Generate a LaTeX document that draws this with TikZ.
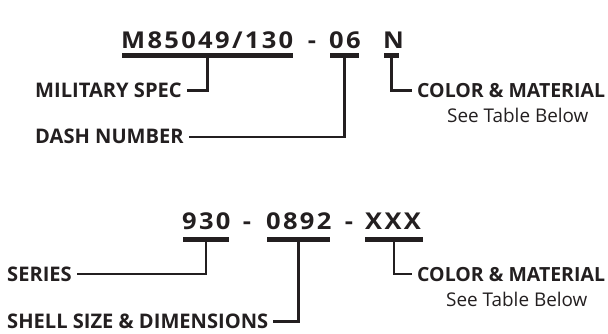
\documentclass[tikz,border=0pt]{standalone}
\usepackage{fontspec}
\setmainfont{Open Sans}
\newfontfamily\codefamily[LetterSpace=10,FakeStretch=1.1]{Open Sans}
\definecolor{ink}{HTML}{231F20}
\newcommand\labfont{\fontsize{20.1}{22}\selectfont\bfseries}
\newcommand\cmfont{\fontsize{19.5}{22}\selectfont\bfseries}
\newcommand\notefont{\fontsize{18.9}{20}\selectfont}
\newcommand\cdfont{\codefamily\fontsize{23.2}{26}\selectfont\bfseries}
\begin{document}
\begin{tikzpicture}[x=1pt,y=-1pt,
  lbl/.style={font=\labfont, text=ink, inner xsep=5pt, inner ysep=0pt, text height=14pt, text depth=0pt, anchor=west},
  cmlbl/.style={lbl, font=\cmfont},
  code/.style={font=\cdfont, text=ink, inner sep=0pt, anchor=base west},
  dashmark/.style={font=\cdfont, text=ink, inner sep=0pt, anchor=base},
  bar/.style={fill=ink, inner sep=0pt, minimum height=5pt},
  note/.style={font=\notefont, text=ink, inner sep=0pt, anchor=base west},
  conn/.style={draw=ink, line width=2.2pt}]
\useasboundingbox (0,0) rectangle (608,334);
% ---------- top code ----------
\node[code] (c1) at (121,48.3) {M85049/130};
\node[dashmark] (d1) at (312,48.3) {-};
\node[code] (c2) at (329,48.3) {06};
\node[code] (c3) at (383,48.3) {N};
\node[bar, minimum width=171pt] (b1) at (207.5,55.8) {};
\node[bar, minimum width=29pt] (b2) at (344.5,55.8) {};
\node[bar, minimum width=15pt] (b3) at (391.5,55.8) {};
\node[lbl] (ms) at (30,90.5) {MILITARY SPEC};
\node[lbl] (dn) at (30,137) {DASH NUMBER};
\node[cmlbl] (cm1) at (412,90.5) {COLOR \& MATERIAL};
\node[note] (st1) at (447,123) {See Table Below};
\draw[conn] (b1.south) |- (ms.east);
\draw[conn] (b2.south) |- (dn.east);
\draw[conn] (b3.south) |- (cm1.west);
% ---------- bottom code ----------
\node[code] (e1) at (182,229.3) {930};
\node[dashmark] (f1) at (247,229.3) {-};
\node[code] (e2) at (266,229.3) {0892};
\node[dashmark] (f2) at (349,229.3) {-};
\node[code] (e3) at (365,229.3) {XXX};
\node[bar, minimum width=46pt] (g1) at (206,239.5) {};
\node[bar, minimum width=63pt] (g2) at (298.5,239.5) {};
\node[bar, minimum width=58pt] (g3) at (394,239.5) {};
\node[lbl] (se) at (2,274) {SERIES};
\node[lbl] (sh) at (2,321.5) {SHELL SIZE \& DIMENSIONS};
\node[cmlbl] (cm2) at (412,274) {COLOR \& MATERIAL};
\node[note] (st2) at (446,306) {See Table Below};
\draw[conn] (g1.south) |- (se.east);
\draw[conn] (g2.south) |- (sh.east);
\draw[conn] (g3.south) |- (cm2.west);
\end{tikzpicture}
\end{document}
